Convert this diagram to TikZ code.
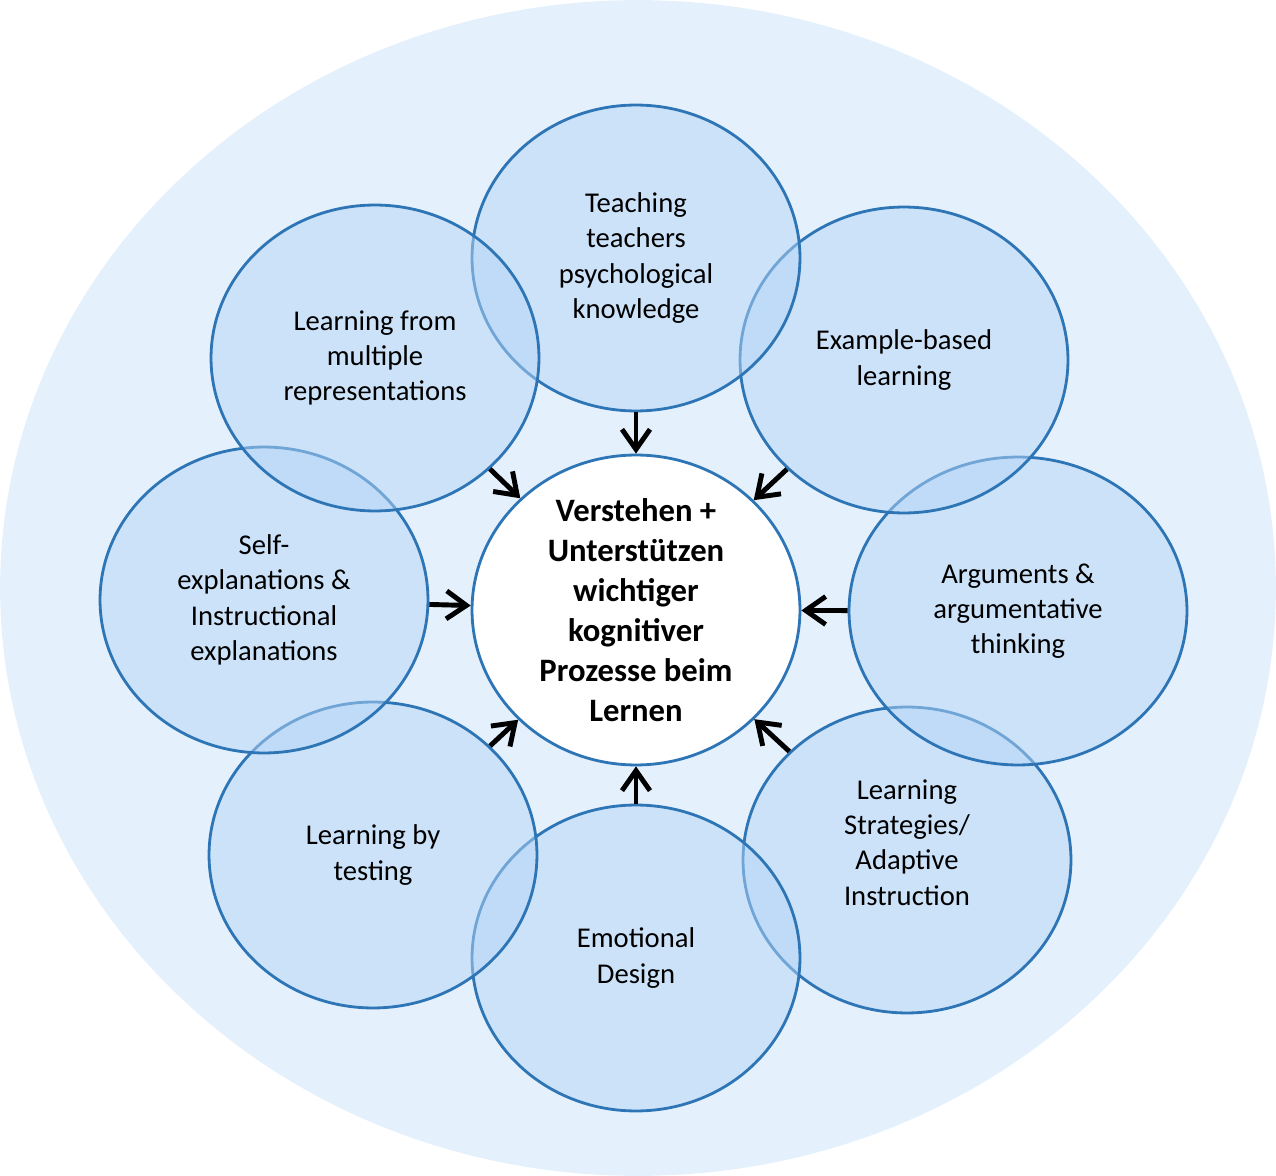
\documentclass[tikz,border=0pt]{standalone}
\usepackage{fontspec}
\setmainfont{Carlito}
\usetikzlibrary{shapes.geometric,arrows.meta}
\definecolor{bgblue}{RGB}{228,241,253}
\definecolor{bubblefill}{RGB}{181,213,246}
\definecolor{bubbleline}{RGB}{46,117,182}
\begin{document}
\begin{tikzpicture}[x=0.02cm,y=-0.02cm,
        bubble/.style={ellipse,draw=bubbleline,line width=1.6pt,fill=bubblefill,fill opacity=0.5,text opacity=1,
            minimum width=6.56cm,minimum height=6.12cm,align=center,
            font=\fontsize{16.3}{20.1}\selectfont},
        core/.style={ellipse,draw=bubbleline,line width=1.6pt,fill=white,inner ysep=-6pt,
            minimum width=6.56cm,minimum height=6.2cm,align=center,
            font=\bfseries\fontsize{18.6}{22.7}\selectfont},
        arr/.style={line width=2.8pt,-{Straight Barb[length=4mm,width=5.6mm]}}]
        \useasboundingbox (0,0) rectangle (1276,1176);
        \fill[bgblue] (638,588) ellipse [x radius=12.76cm,y radius=11.76cm];
        % outer ring, later ones lie on top
        \node[bubble] (strat) at (907,860) {Learning\\Strategies/\\Adaptive\\Instruction\\\mbox{}};
        \node[bubble,minimum width=6.76cm,minimum height=6.16cm] (args) at (1018,611) {Arguments \&\\argumentative\\thinking};
        \node[bubble] (example) at (904,360) {Example-based\\learning};
        \node[bubble] (teach) at (636,258) {Teaching\\teachers\\psychological\\knowledge};
        \node[bubble] (emo) at (636,958) {Emotional\\Design};
        \node[bubble] (test) at (373,855) {Learning by\\testing};
        \node[bubble] (self) at (264,600) {Self-\\explanations \&\\Instructional\\explanations};
        \node[bubble] (multi) at (375,358) {Learning from\\multiple\\representations};
        % middle
        \node[core] (mid) at (636,610) {Verstehen +\\Unterstützen\\wichtiger\\kognitiver\\Prozesse beim\\Lernen};
        \foreach \n in {teach,example,args,strat,emo,test,self,multi}
            \draw[arr] (\n) -- (mid);
    \end{tikzpicture}
\end{document}
